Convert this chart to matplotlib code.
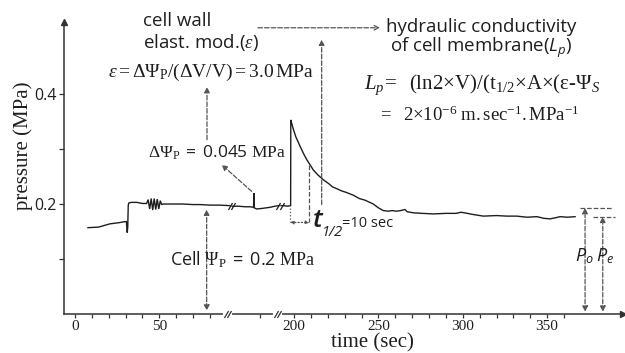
import matplotlib
matplotlib.use("Agg")
import matplotlib.pyplot as plt

plt.rcParams["mathtext.fontset"] = "custom"
plt.rcParams["mathtext.rm"] = "Liberation Serif"
plt.rcParams["mathtext.it"] = "Liberation Serif:italic"
plt.rcParams["mathtext.bf"] = "Liberation Serif:bold"
plt.rcParams["mathtext.sf"] = "Open Sans"
plt.rcParams["mathtext.cal"] = "Open Sans:italic"   # used for the sans italic bits

# x is the position on the broken time axis (the stretch 100-190 s is cut out)
tick_pos = [0, 50, 130, 180, 230, 280]
tick_lab = ["0", "50", "200", "250", "300", "350"]
minor_pos = [10, 20, 30, 40, 60, 70, 80, 110, 140, 150, 160, 170, 190, 200,
             210, 220, 240, 250, 260, 270, 290]
axis_breaks = [90.5, 120.0]
curve_breaks = [92.6, 121.6]

# segment 1: start, stab, oscillation
seg1_x = [7.7, 14, 20.8, 26, 29.7, 30.5, 31.0, 31.3, 31.6, 32.0, 33.5, 36.6, 40, 42.5,
          43.4, 44.3, 45.2, 46.1, 47.0, 47.9, 48.8, 49.7, 50.6, 51.4, 52.2, 58, 64, 70,
          74.1, 80, 86, 92.0]
seg1_p = [0.157, 0.158, 0.164, 0.166, 0.168, 0.168, 0.148, 0.158, 0.198, 0.202, 0.203,
          0.203, 0.201, 0.201, 0.208, 0.191, 0.210, 0.189, 0.210, 0.190, 0.209, 0.191,
          0.206, 0.199, 0.200, 0.200, 0.200, 0.199, 0.199, 0.198, 0.198, 0.197]
# segment 2: small pressure pulse (spike)
seg2_x = [93.2, 97, 101, 104, 105.9, 106.1, 106.3, 107.8, 111, 115.7, 118.5, 121.0]
seg2_p = [0.196, 0.196, 0.195, 0.195, 0.194, 0.220, 0.193, 0.191, 0.192, 0.194, 0.196, 0.197]
# segment 3: large step and relaxation
seg3_x = [122.2, 124, 126, 127.9, 128.0, 128.6, 129.5, 131, 133.5, 135.5, 137.4, 139.5,
          141.3, 144, 147.3, 150.5, 152.8, 155.2, 158, 161, 165.1, 168.6, 172, 176.9, 180,
          182.9, 186, 188, 190.8, 193, 195.7, 197, 200.7, 206, 212.5, 220, 226,
          229, 231, 236, 242.2, 250, 256, 262, 268, 274, 278, 281.7, 285, 287.7, 292, 296.6]
seg3_p = [0.197, 0.197, 0.196, 0.197, 0.353, 0.346, 0.336, 0.322, 0.305, 0.292, 0.281,
          0.271, 0.262, 0.253, 0.244, 0.237, 0.231, 0.228, 0.224, 0.221, 0.216, 0.210,
          0.207, 0.200, 0.193, 0.188, 0.187, 0.188, 0.187, 0.188, 0.190, 0.186,
          0.184, 0.183, 0.182, 0.183, 0.183, 0.185, 0.184, 0.181, 0.178, 0.179, 0.178,
          0.178, 0.176, 0.177, 0.174, 0.173, 0.175, 0.177, 0.176, 0.177]

P_o = 0.193
P_e = 0.177

INK = "#1e1e1e"
DASH = "#555555"

fig = plt.figure(figsize=(6.25, 3.53), dpi=100)
ax = fig.add_axes([64 / 625, 39 / 353, 559 / 625, 292 / 353])
ax.set_xlim(-6.5, 325)
ax.set_ylim(0, 0.531)

for sx, sp in [(seg1_x, seg1_p), (seg2_x, seg2_p), (seg3_x, seg3_p)]:
    ax.plot(sx, sp, color=INK, lw=1.0, solid_joinstyle="miter")

# spines / ticks
for s in ("top", "right"):
    ax.spines[s].set_visible(False)
for s in ("left", "bottom"):
    ax.spines[s].set_color("#333333")
    ax.spines[s].set_linewidth(1.1)
ax.plot(1, 0, ">", color="#333333", ms=4, transform=ax.get_yaxis_transform(), clip_on=False)
ax.plot(-6.5, 1, "^", color="#333333", ms=4, transform=ax.get_xaxis_transform(), clip_on=False)

ax.set_xticks(tick_pos)
ax.set_xticklabels(tick_lab, family="Liberation Serif", fontsize=11)
ax.set_xticks(minor_pos, minor=True)
ax.tick_params(axis="x", which="both", length=3, width=0.9, color="#333333", pad=1.5,
               labelcolor=INK)
ax.set_yticks([0.1, 0.2, 0.3, 0.4])
ax.set_yticklabels(["", "0.2", "", "0.4"], family="Open Sans", fontsize=11.5)
ax.tick_params(axis="y", length=3.5, width=0.9, color="#333333", pad=1.5, labelcolor=INK)

ax.set_xlabel("time (sec)", family="Liberation Serif", fontsize=15, color=INK)
ax.xaxis.set_label_coords(0.551, -0.065)
ax.set_ylabel("pressure (MPa)", family="Liberation Serif", fontsize=15, color=INK)
ax.yaxis.set_label_coords(-0.056, 0.575)

# break marks on axis and curve
slash = [(-1, -1.7), (1, 1.7)]
for b in axis_breaks:
    ax.plot([b - 1.3, b + 1.3], [0, 0], color="white", lw=3, clip_on=False, zorder=3)
    ax.plot([b - 0.9, b + 0.9], [0, 0], ls="none", marker=slash, ms=5, mew=0.9,
            color="#333333", clip_on=False, zorder=4)
for b, y in zip(curve_breaks, [0.1965, 0.197]):
    ax.plot([b - 0.9, b + 0.9], [y, y], ls="none", marker=slash, ms=5, mew=0.9, color=INK)


def arrow(xy, xytext, style="-|>", ls="--", ms=8):
    ax.annotate("", xy=xy, xytext=xytext, annotation_clip=False,
                arrowprops=dict(arrowstyle=style, ls=ls, color=DASH, lw=0.9,
                                shrinkA=0, shrinkB=0, mutation_scale=ms))


arrow((180.9, 0.5205), (108.5, 0.5205), style="->")
arrow((146.3, 0.499), (146.3, 0.199))
ax.plot([139, 139], [0.271, 0.1665], ls="--", color=DASH, lw=0.9)
ax.plot([127.5, 127.5], [0.193, 0.1665], ls=":", color=DASH, lw=0.9)
arrow((139, 0.1665), (127.5, 0.1665), style="<|-|>", ls=":", ms=5)
arrow((78.3, 0.413), (78.3, 0.317))
arrow((87, 0.2715), (104.8, 0.223))
arrow((78.1, 0.006), (78.1, 0.19), style="<|-|>")

# P_o / P_e
ax.plot([299.5, 319.3], [P_o, P_o], ls="--", color=DASH, lw=0.9)
ax.plot([307.4, 320.3], [P_e, P_e], ls="--", color=DASH, lw=0.9)
arrow((302.5, P_o), (302.5, 0.004), style="<|-|>")
arrow((313, P_e), (313, 0.004), style="<|-|>")
ax.text(302.3, 0.095, r"$\mathcal{P}_{\mathcal{o}}$", fontsize=13, ha="center",
        va="baseline", color=INK)
ax.text(314.2, 0.095, r"$\mathcal{P}_{\mathcal{e}}$", fontsize=13, ha="center",
        va="baseline", color=INK)

# annotations
sans = dict(family="Open Sans", color=INK)
ax.text(40.3, 0.533, "cell wall", fontsize=13.5, va="center", **sans)
ax.text(40.3, 0.493, r"elast. mod.($\varepsilon$)", fontsize=13.5, va="center", **sans)
ax.text(19.6, 0.439, r"$\varepsilon=\Delta\Psi_{\mathrm{P}}/(\Delta\mathrm{V/V})=3.0\,\mathrm{MPa}$",
        fontsize=14, va="center", color=INK)
ax.text(43.3, 0.293, r"$\Delta\Psi_{\mathrm{P}}\ \mathsf{=\ 0.045}\ \mathrm{MPa}$",
        fontsize=12.5, va="center", color=INK)
ax.text(56.3, 0.099, r"$\mathsf{Cell}\ \Psi_{\mathrm{P}}\ \mathsf{=\ 0.2}\ \mathrm{MPa}$",
        fontsize=13, va="center", color=INK)

ax.text(241, 0.522, "hydraulic conductivity", fontsize=13.5, ha="center", va="center", **sans)
ax.text(241, 0.484, r"of cell membrane($\mathcal{L_p}$)", fontsize=13.5, ha="center",
        va="center", **sans)
ax.text(241.7, 0.417,
        r"$L_p\!=\ \ \mathrm{(ln2{\times}V)/(t_{1/2}{\times}A{\times}(\varepsilon{‐}\Psi}_{S}$",
        fontsize=15, ha="center", va="center", color=INK)
ax.text(239.6, 0.362, r"$=\ \ \mathrm{2{\times}10^{-6}\ m.sec^{-1}.MPa^{-1}}$",
        fontsize=13.5, ha="center", va="center", color=INK)

ax.text(140.8, 0.158, "t", fontsize=19, style="italic", weight="semibold",
        va="baseline", **sans)
ax.text(146.3, 0.1415, "1/2", fontsize=10.5, style="italic", va="baseline", **sans)
ax.text(158.4, 0.159, "=10 sec", fontsize=10.5, va="baseline", **sans)

fig.savefig("out.png", dpi=100)
